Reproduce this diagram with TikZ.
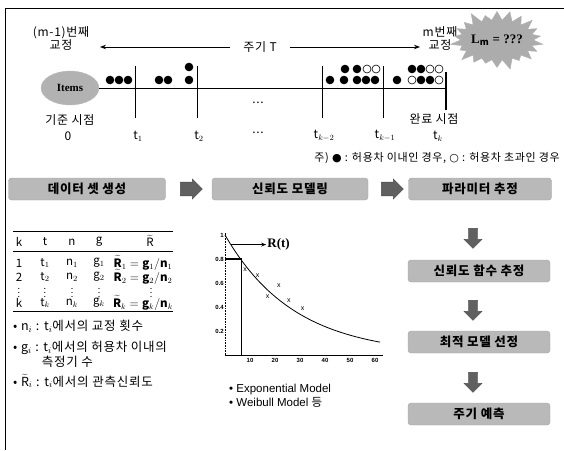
\documentclass[tikz,border=0pt]{standalone}
\usepackage{fontspec}
\setmainfont{Noto Sans CJK KR}[LetterSpace=6]
\newfontfamily\serif{Liberation Serif}
\newfontfamily\lsans{Liberation Sans}
\usetikzlibrary{shapes.symbols,shapes.arrows,shapes.geometric,arrows.meta}
\tikzset{
  procbox/.style={draw=gray!70, rounded corners=3pt, fill=gray!55, minimum height=22pt, font=\fontsize{12.5}{13}\selectfont\bfseries, text=black},
  harrow/.style={single arrow, fill=gray!75!black, draw=gray!60!black, minimum height=22pt, minimum width=20pt, single arrow head extend=1pt, inner sep=2pt},
  varrow/.style={single arrow, shape border rotate=270, fill=gray!75!black, draw=gray!60!black, minimum height=20pt, minimum width=18pt, single arrow head extend=2pt, inner sep=2pt},
  fdot/.style={fill=black},
  hdot/.style={draw=black, fill=white, line width=0.6pt},
  lbl/.style={font=\fontsize{12}{13}\selectfont, inner sep=1pt},
  tick/.style={line width=0.8pt},
}
\begin{document}
\begin{tikzpicture}[x=1pt,y=-1pt]
\useasboundingbox (0,0) rectangle (564,450);
% frame
\draw[line width=0.8pt] (5,450) -- (5,8) -- (564,8);
% top labels
\node[lbl, align=center] (m1) at (61,38) {(m-1)번째\\교정};
\node[lbl, align=center] (m2) at (440,38) {m번째\\교정};
\node[lbl] (T) at (260,47) {주기 T};
\draw[line width=1pt, -{Stealth[length=6pt]}] (T.west) ++(-12,0) coordinate (ta) -- (100,47);
\draw[line width=1pt, -{Stealth[length=6pt]}] (T.east) ++(12,0) coordinate (tb) -- (420,47);
\node[starburst, starburst points=22, starburst point height=12pt, fill=gray!65, draw=gray!60, minimum width=80pt, minimum height=64pt, inner sep=0pt, font=\serif\bfseries\fontsize{13}{13}\selectfont] (L) at (497,40) {L$_{\mathbf m}$ = ???};
% timeline
\node[ellipse, fill=gray!60, draw=gray!50, minimum width=58pt, minimum height=34pt, inner sep=0pt, font=\serif\bfseries\fontsize{11}{11}\selectfont] (items) at (70,88) {Items};
\coordinate (lineend) at (446,88);
\draw[line width=0.8pt] (items.east) -- (lineend);
\draw[tick] (135,66) -- (135,118);
\draw[tick] (197,66) -- (197,118);
\draw[tick] (322,66) -- (322,118);
\draw[tick] (383,66) -- (383,118);
\draw[line width=1.6pt] (446,72) -- (446,110);
\node[lbl] (dots) at (258,103) {...};
% dots
\foreach \x in {110,119,128,159,168} \fill[fdot] (\x,80) circle (4.3);
\fill[fdot] (189,80) circle (4.3);
\fill[fdot] (189,67) circle (4.3);
\foreach \x in {330,344,357,366,375} \fill[fdot] (\x,80) circle (4.3);
\foreach \x in {345,357} \fill[fdot] (\x,69) circle (4.3);
\foreach \x in {367,376} \draw[hdot] (\x,69) circle (4);
\foreach \x in {412,421} \fill[fdot] (\x,69) circle (4.3);
\foreach \x in {430,439} \draw[hdot] (\x,69) circle (4);
\foreach \x in {397,421,430} \fill[fdot] (\x,80) circle (4.3);
\foreach \x in {412,439} \draw[hdot] (\x,80) circle (4);
% time labels
\node[lbl] (ks) at (70,120) {기준 시점};
\node[lbl] (ws) at (434,119) {완료 시점};
\node[lbl] (l0) at (68,136) {0};
\node[lbl] (l1) at (138,136) {t$_1$};
\node[lbl] (l2) at (199,136) {t$_2$};
\node[lbl] (l3) at (258,133) {...};
\node[lbl] (l4) at (324,136) {t$_{k-2}$};
\node[lbl] (l5) at (385,136) {t$_{k-1}$};
\node[lbl] (l6) at (438,136) {t$_k$};
\node[lbl, anchor=east, font=\fontsize{11}{12}\selectfont] (note) at (561,158) {주) {\fontspec{DejaVu Sans}●} : 허용차 이내인 경우, {\fontspec{DejaVu Sans}○} : 허용차 초과인 경우};
% process row
\node[procbox, minimum width=157pt] (b1) at (87,189) {데이터 셋 생성};
\node[procbox, minimum width=156pt] (b2) at (290,189) {신뢰도 모델링};
\node[procbox, minimum width=143pt] (b3) at (480,189) {파라미터 추정};
\node[harrow] (a1) at (188,189) {};
\node[harrow] (a2) at (389,189) {};
\node[procbox, minimum width=142pt] (b4) at (479,271) {신뢰도 함수 추정};
\node[procbox, minimum width=142pt] (b5) at (479,342) {최적 모델 선정};
\node[procbox, minimum width=142pt] (b6) at (479,414) {주기 예측};
\node[varrow] (d1) at (473,236) {};
\node[varrow] (d2) at (473,308) {};
\node[varrow] (d3) at (473,380) {};
% table
\begin{scope}[font=\fontsize{11.5}{12}\selectfont, inner sep=1pt]
\draw[line width=0.9pt] (13,231) -- (173,231);
\draw[line width=0.9pt] (13,251) -- (173,251);
\draw[line width=0.9pt] (13,311) -- (173,311);
\node (h1) at (19,242) {k};
\node (h2) at (45,242) {t};
\node (h3) at (72,242) {n};
\node (h4) at (99,242) {g};
\node (h5) at (150,241) {$\widetilde{\mathrm{R}}$};
\node (r11) at (19,263) {1};
\node (r12) at (45,263) {t$_1$};
\node (r13) at (72,263) {n$_1$};
\node (r14) at (99,263) {g$_1$};
\node (r15) at (143,263) {$\widetilde{\mathbf R}_1=\mathbf g_1/\mathbf n_1$};
\node (r21) at (19,277) {2};
\node (r22) at (45,277) {t$_2$};
\node (r23) at (72,277) {n$_2$};
\node (r24) at (99,277) {g$_2$};
\node (r25) at (143,277) {$\widetilde{\mathbf R}_2=\mathbf g_2/\mathbf n_2$};
\foreach \x in {19,45,72,99,151} \node[font=\fontsize{9}{9}\selectfont, inner sep=0pt] at (\x,290) {$\vdots$};
\node (rk1) at (19,303) {k};
\node (rk2) at (45,303) {t$_k$};
\node (rk3) at (72,303) {n$_k$};
\node (rk4) at (99,303) {g$_k$};
\node (rk5) at (143,303) {$\widetilde{\mathbf R}_k=\mathbf g_k/\mathbf n_k$};
\end{scope}
\begin{scope}[font=\fontsize{12.5}{15}\selectfont]
\node[inner sep=1pt, anchor=west] (n1) at (12,326) {• n$_i$ : t$_i$에서의 교정 횟수};
\node[inner sep=1pt, anchor=north west, align=left] (n2) at (12,340) {• g$_i$ : t$_i$에서의 허용차 이내의\\\hspace{2.3em}측정기 수};
\node[inner sep=1pt, anchor=west] (n3) at (12,381) {• $\widetilde{\mathrm R}_i$ : t$_i$에서의 관측신뢰도};
\end{scope}
% graph
\begin{scope}[shift={(225,355)}, x=2.5pt, y=120pt]
\draw[line width=0.8pt] (0,0) -- (63,0);
\draw[densely dotted, line width=0.6pt] (0,0) -- (0,1.02);
\foreach \v/\l in {0.2/0.2,0.4/0.4,0.6/0.6,0.8/0.8,1/1}
  \node[anchor=east, font=\lsans\bfseries\fontsize{6}{6}\selectfont, inner sep=1pt] at (0,\v) {\l};
\foreach \v in {10,20,...,60}
  \node[anchor=north, font=\lsans\bfseries\fontsize{6}{6}\selectfont, inner sep=3pt] at (\v,0) {\v};
\draw[line width=0.8pt, domain=0:62, samples=60] plot (\x,{exp(-0.036*\x)});
\draw[line width=1.3pt] (0,0.8) -- (6.5,0.8) -- (6.5,0);
\foreach \p/\q in {8/0.71,13/0.66,17/0.49,21.5/0.58,25.5/0.45,31/0.39}
  \node[font=\lsans\fontsize{7}{7}\selectfont, inner sep=0pt] at (\p,\q) {x};
\coordinate (ra) at (2.5,0.92);
\node[anchor=west, font=\serif\bfseries\fontsize{13}{13}\selectfont, inner sep=1pt] (Rt) at (16.5,0.92) {R(t)};
\draw[line width=1pt, -{Stealth[length=5pt]}] (ra) -- (Rt.west);
\end{scope}
\node[font=\lsans\fontsize{11.5}{14}\selectfont, anchor=west, align=left, inner sep=1pt] (ml) at (228,396) {• Exponential Model\\• Weibull Model {\fontspec{Noto Sans CJK KR}등}};
\end{tikzpicture}
\end{document}
